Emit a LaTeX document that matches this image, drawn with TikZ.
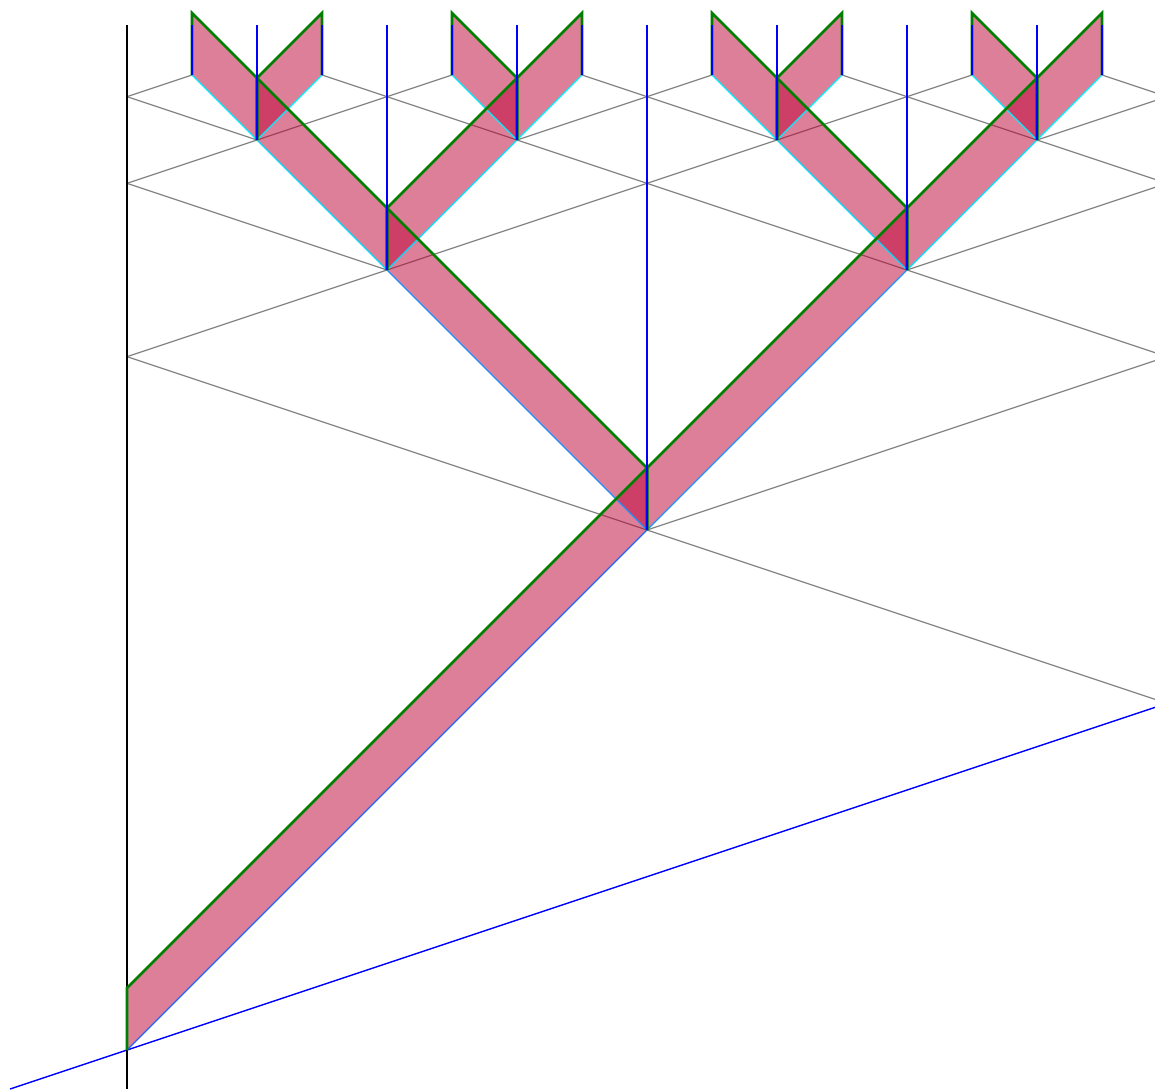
\documentclass[tikz,border=0pt]{standalone}
\usepackage{tikz}
\definecolor{bandred}{RGB}{189,0,53}
\definecolor{rootblue}{RGB}{30,100,255}
\definecolor{dodger}{RGB}{30,144,255}
\definecolor{skycyan}{RGB}{0,220,255}
\definecolor{leafcyan}{RGB}{0,240,255}

\begin{document}
\begin{tikzpicture}[x=0.5pt,y=-0.5pt,
  greyray/.style={draw=gray,line width=0.6pt},
  bandfill/.style={fill=bandred,fill opacity=0.5},
  lowedge/.style={line width=0.65pt},
  topedge/.style={draw=green!50!black,line width=1.3pt},
  stemline/.style={draw=blue,line width=0.7pt}]
\useasboundingbox (0,0) rectangle (1155,1089);
\clip (0,0) rectangle (1155,1089);

% tree vertices
\coordinate (o) at (127,1050);
\coordinate (a) at (647,530);
\coordinate (al) at (387,270);  \coordinate (ar) at (907,270);
\coordinate (all) at (257,140); \coordinate (alr) at (517,140);
\coordinate (arl) at (777,140); \coordinate (arr) at (1037,140);
\coordinate (alll) at (192,75); \coordinate (allr) at (322,75);
\coordinate (alrl) at (452,75); \coordinate (alrr) at (582,75);
\coordinate (arll) at (712,75); \coordinate (arlr) at (842,75);
\coordinate (arrl) at (972,75); \coordinate (arrr) at (1102,75);
\coordinate (top) at (0,25);

% points on the two sides
\coordinate (w1) at (127,356.67);  \coordinate (e1) at (1167,356.67);
\coordinate (w2) at (127,183.33);  \coordinate (e2) at (1167,183.33);
\coordinate (w3) at (127,96.67);   \coordinate (e3) at (1167,96.67);
\coordinate (e0) at (1167,703.33); \coordinate (sw) at (10,1089);

% grey rays
\draw[greyray] (w1) -- (arrl) (w2) -- (alrl) (w3) -- (alll) (alr) -- (arll)
  (a) -- (e1) (ar) -- (e2) (arr) -- (e3);
\draw[greyray] (w1) -- (e0) (allr) -- (e1) (arlr) -- (e2) (arrr) -- (e3)
  (w2) -- (al) (w3) -- (all) (alrr) -- (arl);
\draw[blue,line width=0.7pt] (sw) -- (e0);
\draw[black,line width=0.65pt] (o |- top) -- (127,1089);

% bands
\foreach \p/\q in {o/a,a/al,a/ar,al/all,al/alr,ar/arl,ar/arr,all/alll,all/allr,
    alr/alrl,alr/alrr,arl/arll,arl/arlr,arr/arrl,arr/arrr}
  \fill[bandfill] (\p) -- ([yshift=31pt]\p) -- ([yshift=31pt]\q) -- (\q) -- cycle;

\draw[lowedge,draw=rootblue] (o) -- (a);
\draw[lowedge,draw=dodger] (a) -- (al) (a) -- (ar);
\draw[lowedge,draw=skycyan] (al) -- (all) (al) -- (alr) (ar) -- (arl) (ar) -- (arr);
\draw[lowedge,draw=leafcyan] (all) -- (alll) (all) -- (allr) (alr) -- (alrl) (alr) -- (alrr)
  (arl) -- (arll) (arl) -- (arlr) (arr) -- (arrl) (arr) -- (arrr);

\foreach \p/\q in {o/a,a/al,a/ar,al/all,al/alr,ar/arl,ar/arr,all/alll,all/allr,
    alr/alrl,alr/alrr,arl/arll,arl/arlr,arr/arrl,arr/arrr}
  \draw[topedge] (\p) -- ([yshift=31pt]\p) -- ([yshift=31pt]\q) -- (\q);

% stems up to the top line
\foreach \q in {a,al,ar,all,alr,arl,arr,alll,allr,alrl,alrr,arll,arlr,arrl,arrr}
  \draw[stemline] (\q) -- (\q |- top);
\end{tikzpicture}
\end{document}
